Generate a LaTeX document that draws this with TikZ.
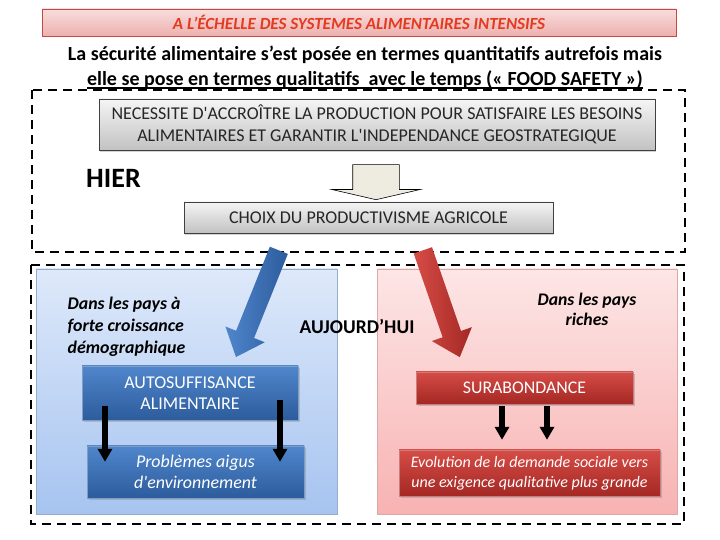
\documentclass[tikz,border=0pt]{standalone}
\usepackage{fontspec}
\setmainfont{Carlito}
\usetikzlibrary{shapes,arrows,arrows.meta,shadows}

\definecolor{rougetitre}{RGB}{228,58,32}
\definecolor{bordrouge}{RGB}{196,72,68}
\definecolor{rosehaut}{RGB}{248,222,221}
\definecolor{rosebas}{RGB}{236,176,174}
\definecolor{bleuclair}{RGB}{222,233,250}
\definecolor{bleufonce}{RGB}{166,196,240}
\definecolor{rougeclair}{RGB}{253,230,230}
\definecolor{rougefonce}{RGB}{248,178,178}
\definecolor{bleubloc}{RGB}{80,134,204}
\definecolor{bleunuit}{RGB}{44,92,156}
\definecolor{rougebloc}{RGB}{214,76,70}
\definecolor{rougesang}{RGB}{164,40,36}
\definecolor{beige}{RGB}{238,236,225}

\newcommand{\souligne}[1]{\setbox0\hbox{#1}\rlap{\rule[-3.5pt]{\wd0}{1.3pt}}\box0}
\newcommand{\apos}{\textquotesingle}

\tikzstyle{titre} = [rectangle, draw=bordrouge, line width=0.8pt, top color=rosehaut, bottom color=rosebas, text=rougetitre, font=\fontsize{17}{20}\selectfont\bfseries\itshape]
\tikzstyle{cadre} = [draw, line width=2.4pt, dash pattern=on 9pt off 6pt]
\tikzstyle{block} = [rectangle, draw=black!75, line width=0.6pt, top color=black!4, bottom color=black!24, text=black!85, align=center, font=\fontsize{18}{22}\selectfont, drop shadow={shadow xshift=1pt, shadow yshift=-2pt, opacity=.35}]
\tikzstyle{bleu} = [rectangle, draw=bleunuit!60, top color=bleubloc, bottom color=bleunuit, text=white, align=center, font=\fontsize{18}{21}\selectfont, drop shadow={shadow xshift=2pt, shadow yshift=-2pt, opacity=.35}]
\tikzstyle{rouge} = [rectangle, draw=rougesang!60, top color=rougebloc, bottom color=rougesang, text=white, align=center, font=\fontsize{17.8}{20}\selectfont, drop shadow={shadow xshift=2pt, shadow yshift=-2pt, opacity=.35}]
\tikzstyle{grosse} = [single arrow, inner xsep=0pt, inner ysep=9.5pt, single arrow head extend=11.5pt, single arrow tip angle=82]
\tikzstyle{line} = [draw, line width=6pt, -{Triangle[width=14pt,length=13pt]}]

\begin{document}
\begin{tikzpicture}[x=1pt, y=1pt]
\useasboundingbox (0,0) rectangle (720,540);

\node [titre, minimum width=634pt, minimum height=27pt] (titre) at (359,517.5) {A L’ÉCHELLE DES SYSTEMES ALIMENTAIRES INTENSIFS};

\node [align=center, font=\fontsize{20}{25}\selectfont\bfseries, below of=titre, node distance=44.5pt, xshift=6pt] (question) {La sécurité alimentaire s’est posée en termes quantitatifs autrefois mais\\ \souligne{elle se pose en termes qualitatifs\ \ avec le temps (« FOOD SAFETY »)}};

% les deux cadres en pointilles
\path [cadre] (32,450) rectangle (685,288);
\path [cadre] (31,275) rectangle (684,16);

% fonds bleu et rouge
\path [draw=bleunuit!50, top color=bleuclair, bottom color=bleufonce] (36,271) rectangle (337,26);
\path [draw=rougesang!40, top color=rougeclair, bottom color=rougefonce] (377,271) rectangle (677,26);

\node [block, minimum width=556pt, minimum height=51pt] (besoins) at (377,415.5) {NECESSITE D\apos ACCROÎTRE LA PRODUCTION POUR SATISFAIRE LES BESOINS\\ALIMENTAIRES ET GARANTIR L\apos INDEPENDANCE GEOSTRATEGIQUE};

\node [block, minimum width=369pt, minimum height=31pt, below of=besoins, node distance=93pt, xshift=-8.5pt] (choix) {CHOIX DU PRODUCTIVISME AGRICOLE};

\node [font=\fontsize{28}{30}\selectfont\bfseries] (hier) at (113.5,362) {HIER};

\node [single arrow, rotate=-90, draw=black, line width=0.6pt, fill=beige, minimum height=35pt, inner xsep=0pt, inner ysep=23pt, single arrow head extend=21pt, single arrow tip angle=154] (fleche) at (376,360.5) {};

\node [font=\fontsize{19.5}{22}\selectfont\bfseries] (aujourdhui) at (357,214) {AUJOURD’HUI};

\node [align=left, font=\fontsize{17.8}{22}\selectfont\bfseries\itshape] (forte) at (126.5,213.5) {Dans les pays à\\forte croissance\\démographique};
\node [align=center, font=\fontsize{17.7}{20}\selectfont\bfseries\itshape] (riches) at (587,231) {Dans les pays\\riches};

\node [bleu, minimum width=216pt, minimum height=54pt] (auto) at (190,147) {AUTOSUFFISANCE\\ALIMENTAIRE};
\node [bleu, minimum width=217pt, minimum height=52pt, font=\fontsize{17.9}{21}\selectfont\itshape] (probl) at (195.5,68) {Problèmes aigus\\d\apos environnement};

\node [rouge, minimum width=217pt, minimum height=32pt] (sura) at (524.5,152) {SURABONDANCE};
\node [rouge, minimum width=261pt, minimum height=46pt, font=\fontsize{16}{20}\selectfont\itshape] (evol) at (529.5,67) {Evolution de la demande sociale vers\\une exigence qualitative plus grande};

% les grosses fleches
\node [grosse, rotate=-111.9, minimum height=115pt, left color=bleubloc, right color=bleunuit] (flbleue) at (259.5,241.5) {};
\node [grosse, rotate=-70.9, minimum height=113pt, left color=rougebloc, right color=rougesang] (flrouge) at (439.5,241.5) {};

% fleches noires
\path [line] ([xshift=-85pt, yshift=14pt]auto.south) -- ([xshift=-90.5pt, yshift=-16pt]probl.north);
\path [line] ([xshift=90pt, yshift=20pt]auto.south) -- ([xshift=84.5pt, yshift=-16pt]probl.north);
\path [line] ([xshift=-22.5pt, yshift=-2pt]sura.south) -- ([xshift=-27.5pt, yshift=10pt]evol.north);
\path [line] ([xshift=22.5pt, yshift=-2pt]sura.south) -- ([xshift=17.5pt, yshift=10pt]evol.north);

\end{tikzpicture}
\end{document}
